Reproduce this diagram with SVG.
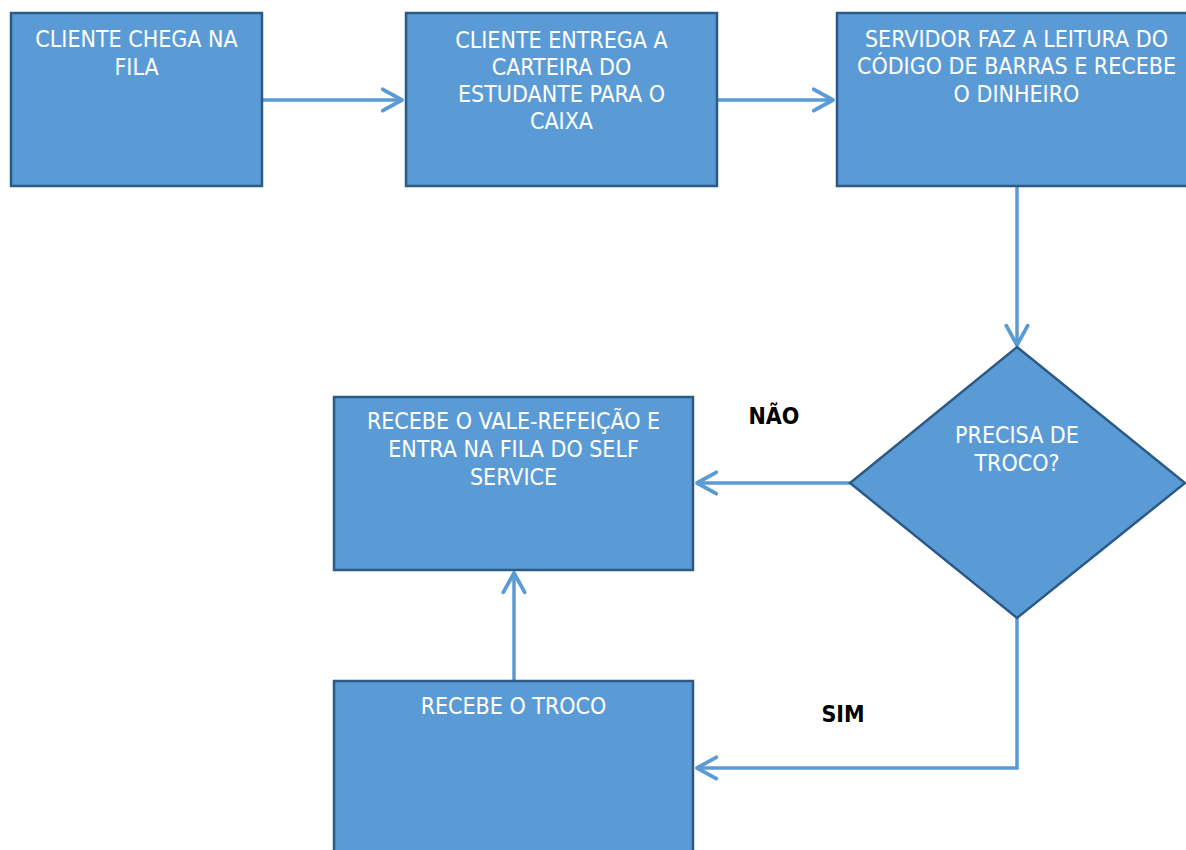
<svg xmlns="http://www.w3.org/2000/svg" width="1186" height="850" viewBox="0 0 1186 850">
<style>
.box{fill:#5B9BD5;stroke:#2B5A86;stroke-width:2.5}
.t{font-family:"DejaVu Sans Condensed","Liberation Sans",Arial,sans-serif;font-stretch:condensed;font-size:23px;fill:#ffffff;text-anchor:middle}
.lbl{font-family:"DejaVu Sans Condensed","Liberation Sans",Arial,sans-serif;font-stretch:condensed;font-size:23px;font-weight:bold;fill:#000000;text-anchor:middle}
.c{fill:none;stroke:#5B9BD5;stroke-width:3.5}
</style>
<defs>
<marker id="arr" markerUnits="userSpaceOnUse" markerWidth="30" markerHeight="30" viewBox="-22 -14 26 28" refX="0" refY="0" orient="auto">
<path d="M-18,-10 L0,0 L-18,10" fill="none" stroke="#5B9BD5" stroke-width="3.5" stroke-linecap="round" stroke-linejoin="round"/>
</marker>
</defs>
<rect width="1186" height="850" fill="#ffffff"/>
<g id="connectors">
<path class="c" d="M262,100 L402,100" marker-end="url(#arr)"/>
<path class="c" d="M717,100 L833,100" marker-end="url(#arr)"/>
<path class="c" d="M1017,186 L1017,345" marker-end="url(#arr)"/>
<path class="c" d="M850,483 L697,483" marker-end="url(#arr)"/>
<path class="c" d="M514,681 L514,573" marker-end="url(#arr)"/>
<path class="c" d="M1017,618 L1017,768 L697,768" marker-end="url(#arr)"/>
</g>
<g id="n1">
<rect class="box" x="11" y="13" width="251" height="173"/>
<text class="t" x="136.5" y="47">CLIENTE CHEGA NA</text>
<text class="t" x="136.5" y="75">FILA</text>
</g>
<g id="n2">
<rect class="box" x="406" y="13" width="311" height="173"/>
<text class="t" x="561.5" y="48">CLIENTE ENTREGA A</text>
<text class="t" x="561.5" y="75">CARTEIRA DO</text>
<text class="t" x="561.5" y="102">ESTUDANTE PARA O</text>
<text class="t" x="561.5" y="129">CAIXA</text>
</g>
<g id="n3">
<rect class="box" x="837" y="13" width="360" height="173"/>
<text class="t" x="1016.5" y="47">SERVIDOR FAZ A LEITURA DO</text>
<text class="t" x="1016.5" y="74">CÓDIGO DE BARRAS E RECEBE</text>
<text class="t" x="1016.5" y="102">O DINHEIRO</text>
</g>
<g id="n4">
<polygon class="box" points="1017,347 1185,483 1017,618 850,483"/>
<text class="t" x="1017" y="443">PRECISA DE</text>
<text class="t" x="1017" y="471">TROCO?</text>
</g>
<g id="n5">
<rect class="box" x="334" y="397" width="359" height="173"/>
<text class="t" x="513.5" y="429">RECEBE O VALE-REFEIÇÃO E</text>
<text class="t" x="513.5" y="457">ENTRA NA FILA DO SELF</text>
<text class="t" x="513.5" y="485">SERVICE</text>
</g>
<g id="n6">
<rect class="box" x="334" y="681" width="359" height="180"/>
<text class="t" x="513.5" y="714">RECEBE O TROCO</text>
</g>
<g id="labels">
<text class="lbl" x="774" y="424">NÃO</text>
<text class="lbl" x="843" y="722">SIM</text>
</g>
</svg>
